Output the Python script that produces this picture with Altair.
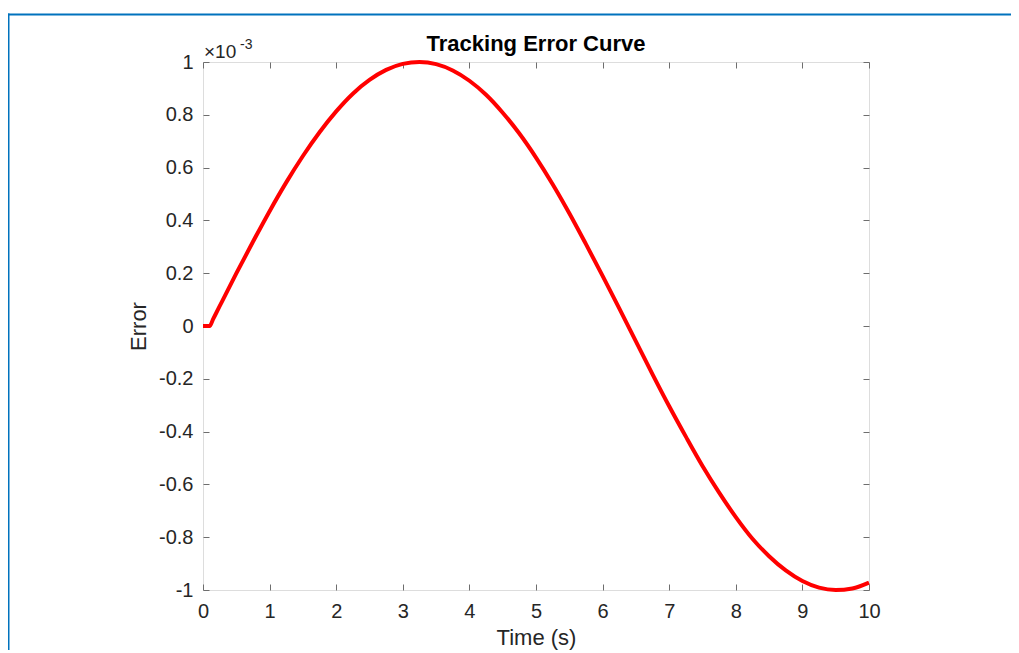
import altair as alt
import pandas as pd

# Time samples (s) and tracking error (in units of 1e-3)
time_s = [0.0, 0.1, 0.15, 0.25, 0.5, 0.75, 1.0, 1.25, 1.5, 1.75, 2.0, 2.25, 2.5, 2.75,
          3.0, 3.25, 3.5, 3.75, 4.0, 4.25, 4.5, 4.75, 5.0, 5.25, 5.5, 5.75,
          6.0, 6.25, 6.5, 6.75, 7.0, 7.25, 7.5, 7.75, 8.0, 8.25, 8.5, 8.75,
          9.0, 9.25, 9.5, 9.75, 10.0]
error_e3 = [0.0, 0.0, 0.025, 0.075, 0.199, 0.319, 0.435, 0.544, 0.644, 0.734, 0.813, 0.880,
            0.932, 0.970, 0.993, 1.000, 0.992, 0.968, 0.929, 0.876, 0.808, 0.729,
            0.638, 0.537, 0.427, 0.310, 0.190, 0.067, -0.058, -0.183, -0.304,
            -0.419, -0.530, -0.631, -0.724, -0.806, -0.872, -0.926, -0.966,
            -0.991, -1.000, -0.994, -0.972]

x_ticks = [0, 1, 2, 3, 4, 5, 6, 7, 8, 9, 10]
y_ticks = [-1.0, -0.8, -0.6, -0.4, -0.2, 0.0, 0.2, 0.4, 0.6, 0.8, 1.0]

title_text = "Tracking Error Curve"
x_title = "Time (s)"
y_title = "Error"

df = pd.DataFrame({"t": time_s, "e": error_e3})
one = pd.DataFrame({"a": [0]})

W, H = 666, 528
FONT = "Liberation Sans"
TXT = "#262626"
AX = "#6e6e6e"

xscale = alt.Scale(domain=[0, 10], nice=False)
yscale = alt.Scale(domain=[-1, 1], nice=False)

ylabel_expr = "datum.value < 0 ? '-' + format(-datum.value, '~g') : format(datum.value, '~g')"

common_axis = dict(domain=False, grid=False, tickSize=6, offset=-6, tickColor=AX,
                   tickWidth=1, labelFont=FONT, labelColor=TXT, titleFont=FONT,
                   titleColor=TXT, titleFontWeight="normal")

line = alt.Chart(df).mark_line(color="#FF0000", strokeWidth=4, clip=False,
                               interpolate="monotone").encode(
    x=alt.X("t:Q", scale=xscale,
            axis=alt.Axis(values=x_ticks, orient="bottom", title=x_title,
                          labelFontSize=20, labelPadding=11, titleFontSize=22,
                          titlePadding=6, labelFlush=False, **common_axis)),
    y=alt.Y("e:Q", scale=yscale,
            axis=alt.Axis(values=y_ticks, orient="left", title=y_title,
                          labelExpr=ylabel_expr, labelFontSize=20, labelPadding=10,
                          titleFontSize=22, titlePadding=8, labelFlush=False,
                          **common_axis)),
)

mirror = alt.Chart(df).mark_line(opacity=0, clip=False).encode(
    x=alt.X("t:Q", scale=xscale,
            axis=alt.Axis(values=x_ticks, orient="top", title=None, labels=False,
                          **common_axis)),
    y=alt.Y("e:Q", scale=yscale,
            axis=alt.Axis(values=y_ticks, orient="right", title=None, labels=False,
                          **common_axis)),
)

title_mark = alt.Chart(one).mark_text(text=title_text, font=FONT, fontSize=22,
                                      fontWeight="bold", color="#000000",
                                      align="center", baseline="alphabetic").encode(
    x=alt.value(W / 2), y=alt.value(-11))

exp_base = alt.Chart(one).mark_text(text="×10", font=FONT, fontSize=19, color=TXT,
                                    align="left", baseline="alphabetic").encode(
    x=alt.value(1), y=alt.value(-4))
exp_sup = alt.Chart(one).mark_text(text="-3", font=FONT, fontSize=14, color=TXT,
                                   align="left", baseline="alphabetic").encode(
    x=alt.value(37), y=alt.value(-13))

border_left = alt.Chart(one).mark_rule(color="#0072BD", strokeWidth=2, clip=False).encode(
    x=alt.value(-194.5), y=alt.value(-48.5), y2=alt.value(H + 100))
border_top = alt.Chart(one).mark_rule(color="#0072BD", strokeWidth=2, clip=False).encode(
    x=alt.value(-195.5), x2=alt.value(W + 200), y=alt.value(-47.5))

chart = alt.layer(line, mirror, title_mark, exp_base, exp_sup, border_left,
                  border_top).resolve_axis(
    x="independent", y="independent"
).properties(
    width=W, height=H,
    autosize=alt.AutoSizeParams(type="none"),
    padding={"left": 195, "top": 54, "right": 142, "bottom": 60},
).configure_view(stroke=AX, strokeWidth=1).configure(background="white")

chart.save("out.html", embed_options={"renderer": "svg", "actions": False})
